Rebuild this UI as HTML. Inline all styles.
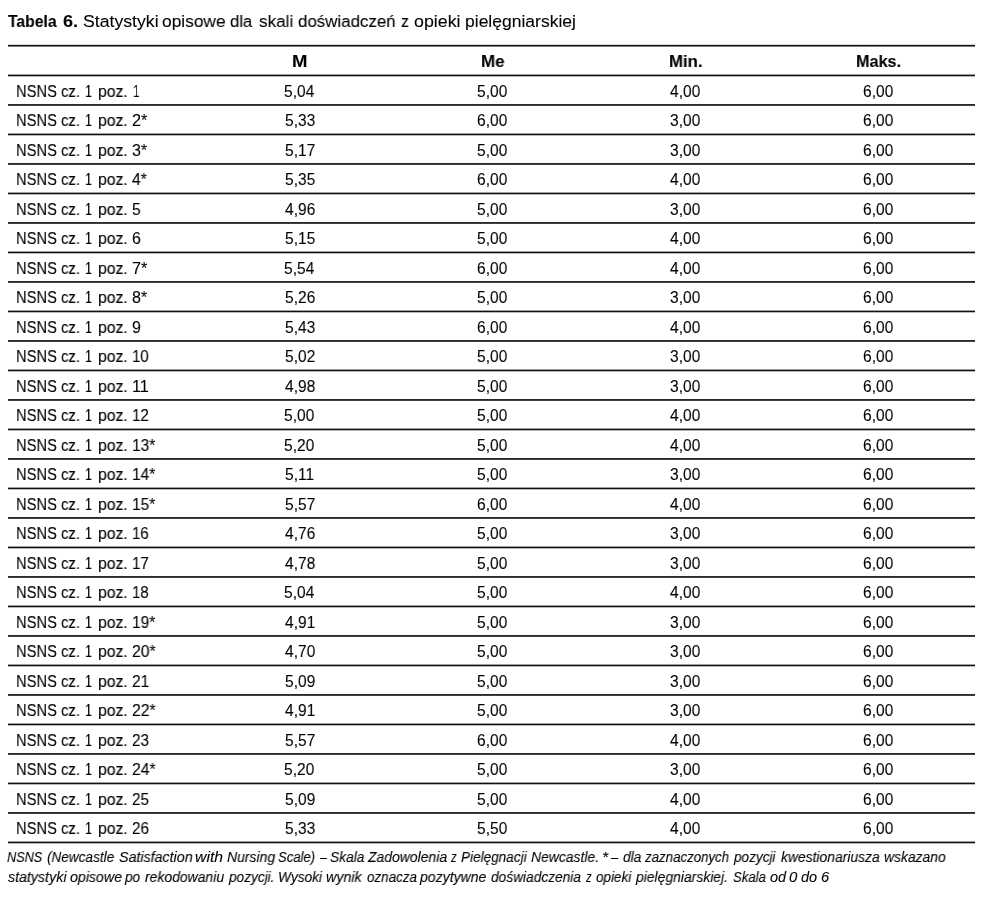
<!DOCTYPE html>
<html><head><meta charset="utf-8"><style>
html,body{margin:0;padding:0;background:#fff;width:1000px;height:901px;overflow:hidden;position:relative}
body{font-family:"Liberation Sans",sans-serif;color:#000}
.t{-webkit-text-stroke:0.1px #000}
.ln{position:absolute;left:7.5px;width:967.50px;height:1px}
.t{position:absolute;height:0;line-height:0;white-space:nowrap;transform-origin:0 0;will-change:transform}
.b{font-weight:bold}.i{font-style:italic}
</style></head><body>
<div class="ln" style="top:44px;background:#dbdbdb"></div>
<div class="ln" style="top:45px;background:#111111"></div>
<div class="ln" style="top:46px;background:#7c7c7c"></div>
<div class="ln" style="top:74px;background:#a0a0a0"></div>
<div class="ln" style="top:75px;background:#111111"></div>
<div class="ln" style="top:76px;background:#b8b8b8"></div>
<div class="ln" style="top:104px;background:#292929"></div>
<div class="ln" style="top:105px;background:#414141"></div>
<div class="ln" style="top:133px;background:#a0a0a0"></div>
<div class="ln" style="top:134px;background:#111111"></div>
<div class="ln" style="top:135px;background:#b8b8b8"></div>
<div class="ln" style="top:163px;background:#292929"></div>
<div class="ln" style="top:164px;background:#414141"></div>
<div class="ln" style="top:192px;background:#a0a0a0"></div>
<div class="ln" style="top:193px;background:#111111"></div>
<div class="ln" style="top:194px;background:#b8b8b8"></div>
<div class="ln" style="top:222px;background:#292929"></div>
<div class="ln" style="top:223px;background:#414141"></div>
<div class="ln" style="top:251px;background:#a0a0a0"></div>
<div class="ln" style="top:252px;background:#111111"></div>
<div class="ln" style="top:253px;background:#b8b8b8"></div>
<div class="ln" style="top:281px;background:#292929"></div>
<div class="ln" style="top:282px;background:#414141"></div>
<div class="ln" style="top:310px;background:#a0a0a0"></div>
<div class="ln" style="top:311px;background:#111111"></div>
<div class="ln" style="top:312px;background:#b8b8b8"></div>
<div class="ln" style="top:340px;background:#292929"></div>
<div class="ln" style="top:341px;background:#414141"></div>
<div class="ln" style="top:369px;background:#a0a0a0"></div>
<div class="ln" style="top:370px;background:#111111"></div>
<div class="ln" style="top:371px;background:#b8b8b8"></div>
<div class="ln" style="top:399px;background:#292929"></div>
<div class="ln" style="top:400px;background:#414141"></div>
<div class="ln" style="top:428px;background:#a0a0a0"></div>
<div class="ln" style="top:429px;background:#111111"></div>
<div class="ln" style="top:430px;background:#b8b8b8"></div>
<div class="ln" style="top:458px;background:#292929"></div>
<div class="ln" style="top:459px;background:#414141"></div>
<div class="ln" style="top:487px;background:#a0a0a0"></div>
<div class="ln" style="top:488px;background:#111111"></div>
<div class="ln" style="top:489px;background:#b8b8b8"></div>
<div class="ln" style="top:517px;background:#292929"></div>
<div class="ln" style="top:518px;background:#414141"></div>
<div class="ln" style="top:546px;background:#a0a0a0"></div>
<div class="ln" style="top:547px;background:#111111"></div>
<div class="ln" style="top:548px;background:#b8b8b8"></div>
<div class="ln" style="top:576px;background:#292929"></div>
<div class="ln" style="top:577px;background:#414141"></div>
<div class="ln" style="top:605px;background:#a0a0a0"></div>
<div class="ln" style="top:606px;background:#111111"></div>
<div class="ln" style="top:607px;background:#b8b8b8"></div>
<div class="ln" style="top:635px;background:#292929"></div>
<div class="ln" style="top:636px;background:#414141"></div>
<div class="ln" style="top:664px;background:#a0a0a0"></div>
<div class="ln" style="top:665px;background:#111111"></div>
<div class="ln" style="top:666px;background:#b8b8b8"></div>
<div class="ln" style="top:694px;background:#292929"></div>
<div class="ln" style="top:695px;background:#414141"></div>
<div class="ln" style="top:723px;background:#a0a0a0"></div>
<div class="ln" style="top:724px;background:#111111"></div>
<div class="ln" style="top:725px;background:#b8b8b8"></div>
<div class="ln" style="top:753px;background:#292929"></div>
<div class="ln" style="top:754px;background:#414141"></div>
<div class="ln" style="top:782px;background:#a0a0a0"></div>
<div class="ln" style="top:783px;background:#111111"></div>
<div class="ln" style="top:784px;background:#b8b8b8"></div>
<div class="ln" style="top:812px;background:#292929"></div>
<div class="ln" style="top:813px;background:#414141"></div>
<div class="ln" style="top:841px;background:#a0a0a0"></div>
<div class="ln" style="top:842px;background:#111111"></div>
<div class="ln" style="top:843px;background:#b8b8b8"></div>
<div class="t b" style="left:8.34px;top:21.37px;font-size:17.4px;transform:scaleX(0.9021)">Tabela</div>
<div class="t b" style="left:63.28px;top:21.37px;font-size:17.4px;transform:scaleX(1.0377)">6.</div>
<div class="t" style="left:82.62px;top:21.37px;font-size:17.4px;transform:scaleX(1.0154)">Statystyki</div>
<div class="t" style="left:162.31px;top:21.37px;font-size:17.4px;transform:scaleX(0.9953)">opisowe</div>
<div class="t" style="left:230.33px;top:21.37px;font-size:17.4px;transform:scaleX(0.9579)">dla</div>
<div class="t" style="left:259.49px;top:21.37px;font-size:17.4px;transform:scaleX(0.9831)">skali</div>
<div class="t" style="left:298.32px;top:21.37px;font-size:17.4px;transform:scaleX(0.9713)">doświadczeń</div>
<div class="t" style="left:401.37px;top:21.37px;font-size:17.4px;transform:scaleX(0.9111)">z</div>
<div class="t" style="left:413.79px;top:21.37px;font-size:17.4px;transform:scaleX(1.0230)">opieki</div>
<div class="t" style="left:464.77px;top:21.37px;font-size:17.4px;transform:scaleX(1.0067)">pielęgniarskiej</div>
<div class="t b" style="left:291.80px;top:61.07px;font-size:17.4px;transform:scaleX(1.0673)">M</div>
<div class="t b" style="left:480.56px;top:61.07px;font-size:17.4px;transform:scaleX(0.9743)">Me</div>
<div class="t b" style="left:668.53px;top:61.07px;font-size:17.4px;transform:scaleX(0.9640)">Min.</div>
<div class="t b" style="left:855.97px;top:61.07px;font-size:17.4px;transform:scaleX(0.9317)">Maks.</div>
<div class="t" style="left:15.62px;top:90.79px;font-size:16.2px;transform:scaleX(0.9085)">NSNS</div>
<div class="t" style="left:61.21px;top:90.79px;font-size:16.2px;transform:scaleX(0.9179)">cz.</div>
<div class="t" style="left:84.80px;top:90.79px;font-size:16.2px;transform:scaleX(0.7752)">1</div>
<div class="t" style="left:97.90px;top:90.79px;font-size:16.2px;transform:scaleX(0.9741)">poz.</div>
<div class="t" style="left:132.69px;top:90.79px;font-size:16.2px;transform:scaleX(0.7034)">1</div>
<div class="t" style="left:284.38px;top:91.59px;font-size:15.6px;transform:scaleX(0.9956)">5,04</div>
<div class="t" style="left:477.46px;top:91.59px;font-size:15.6px;transform:scaleX(0.9956)">5,00</div>
<div class="t" style="left:670.31px;top:91.59px;font-size:15.6px;transform:scaleX(0.9956)">4,00</div>
<div class="t" style="left:863.28px;top:91.59px;font-size:15.6px;transform:scaleX(0.9956)">6,00</div>
<div class="t" style="left:15.62px;top:120.29px;font-size:16.2px;transform:scaleX(0.9085)">NSNS</div>
<div class="t" style="left:61.21px;top:120.29px;font-size:16.2px;transform:scaleX(0.9179)">cz.</div>
<div class="t" style="left:84.80px;top:120.29px;font-size:16.2px;transform:scaleX(0.7752)">1</div>
<div class="t" style="left:97.90px;top:120.29px;font-size:16.2px;transform:scaleX(0.9741)">poz.</div>
<div class="t" style="left:131.99px;top:120.29px;font-size:16.2px;transform:scaleX(0.9961)">2*</div>
<div class="t" style="left:284.53px;top:121.09px;font-size:15.6px;transform:scaleX(0.9956)">5,33</div>
<div class="t" style="left:477.38px;top:121.09px;font-size:15.6px;transform:scaleX(0.9956)">6,00</div>
<div class="t" style="left:670.16px;top:121.09px;font-size:15.6px;transform:scaleX(0.9956)">3,00</div>
<div class="t" style="left:863.28px;top:121.09px;font-size:15.6px;transform:scaleX(0.9956)">6,00</div>
<div class="t" style="left:15.62px;top:149.79px;font-size:16.2px;transform:scaleX(0.9085)">NSNS</div>
<div class="t" style="left:61.21px;top:149.79px;font-size:16.2px;transform:scaleX(0.9179)">cz.</div>
<div class="t" style="left:84.80px;top:149.79px;font-size:16.2px;transform:scaleX(0.7752)">1</div>
<div class="t" style="left:97.90px;top:149.79px;font-size:16.2px;transform:scaleX(0.9741)">poz.</div>
<div class="t" style="left:132.16px;top:149.79px;font-size:16.2px;transform:scaleX(0.9849)">3*</div>
<div class="t" style="left:284.53px;top:150.59px;font-size:15.6px;transform:scaleX(0.9956)">5,17</div>
<div class="t" style="left:477.46px;top:150.59px;font-size:15.6px;transform:scaleX(0.9956)">5,00</div>
<div class="t" style="left:670.16px;top:150.59px;font-size:15.6px;transform:scaleX(0.9956)">3,00</div>
<div class="t" style="left:863.28px;top:150.59px;font-size:15.6px;transform:scaleX(0.9956)">6,00</div>
<div class="t" style="left:15.62px;top:179.29px;font-size:16.2px;transform:scaleX(0.9085)">NSNS</div>
<div class="t" style="left:61.21px;top:179.29px;font-size:16.2px;transform:scaleX(0.9179)">cz.</div>
<div class="t" style="left:84.80px;top:179.29px;font-size:16.2px;transform:scaleX(0.7752)">1</div>
<div class="t" style="left:97.90px;top:179.29px;font-size:16.2px;transform:scaleX(0.9741)">poz.</div>
<div class="t" style="left:132.49px;top:179.29px;font-size:16.2px;transform:scaleX(0.9632)">4*</div>
<div class="t" style="left:284.53px;top:180.09px;font-size:15.6px;transform:scaleX(0.9956)">5,35</div>
<div class="t" style="left:477.38px;top:180.09px;font-size:15.6px;transform:scaleX(0.9956)">6,00</div>
<div class="t" style="left:670.31px;top:180.09px;font-size:15.6px;transform:scaleX(0.9956)">4,00</div>
<div class="t" style="left:863.28px;top:180.09px;font-size:15.6px;transform:scaleX(0.9956)">6,00</div>
<div class="t" style="left:15.62px;top:208.79px;font-size:16.2px;transform:scaleX(0.9085)">NSNS</div>
<div class="t" style="left:61.21px;top:208.79px;font-size:16.2px;transform:scaleX(0.9179)">cz.</div>
<div class="t" style="left:84.80px;top:208.79px;font-size:16.2px;transform:scaleX(0.7752)">1</div>
<div class="t" style="left:97.90px;top:208.79px;font-size:16.2px;transform:scaleX(0.9741)">poz.</div>
<div class="t" style="left:132.18px;top:208.79px;font-size:16.2px;transform:scaleX(0.9588)">5</div>
<div class="t" style="left:284.69px;top:209.59px;font-size:15.6px;transform:scaleX(0.9956)">4,96</div>
<div class="t" style="left:477.46px;top:209.59px;font-size:15.6px;transform:scaleX(0.9956)">5,00</div>
<div class="t" style="left:670.16px;top:209.59px;font-size:15.6px;transform:scaleX(0.9956)">3,00</div>
<div class="t" style="left:863.28px;top:209.59px;font-size:15.6px;transform:scaleX(0.9956)">6,00</div>
<div class="t" style="left:15.62px;top:238.29px;font-size:16.2px;transform:scaleX(0.9085)">NSNS</div>
<div class="t" style="left:61.21px;top:238.29px;font-size:16.2px;transform:scaleX(0.9179)">cz.</div>
<div class="t" style="left:84.80px;top:238.29px;font-size:16.2px;transform:scaleX(0.7752)">1</div>
<div class="t" style="left:97.90px;top:238.29px;font-size:16.2px;transform:scaleX(0.9741)">poz.</div>
<div class="t" style="left:132.01px;top:238.29px;font-size:16.2px;transform:scaleX(0.9796)">6</div>
<div class="t" style="left:284.53px;top:239.09px;font-size:15.6px;transform:scaleX(0.9956)">5,15</div>
<div class="t" style="left:477.46px;top:239.09px;font-size:15.6px;transform:scaleX(0.9956)">5,00</div>
<div class="t" style="left:670.31px;top:239.09px;font-size:15.6px;transform:scaleX(0.9956)">4,00</div>
<div class="t" style="left:863.28px;top:239.09px;font-size:15.6px;transform:scaleX(0.9956)">6,00</div>
<div class="t" style="left:15.62px;top:267.79px;font-size:16.2px;transform:scaleX(0.9085)">NSNS</div>
<div class="t" style="left:61.21px;top:267.79px;font-size:16.2px;transform:scaleX(0.9179)">cz.</div>
<div class="t" style="left:84.80px;top:267.79px;font-size:16.2px;transform:scaleX(0.7752)">1</div>
<div class="t" style="left:97.90px;top:267.79px;font-size:16.2px;transform:scaleX(0.9741)">poz.</div>
<div class="t" style="left:131.99px;top:267.79px;font-size:16.2px;transform:scaleX(0.9961)">7*</div>
<div class="t" style="left:284.38px;top:268.59px;font-size:15.6px;transform:scaleX(0.9956)">5,54</div>
<div class="t" style="left:477.38px;top:268.59px;font-size:15.6px;transform:scaleX(0.9956)">6,00</div>
<div class="t" style="left:670.31px;top:268.59px;font-size:15.6px;transform:scaleX(0.9956)">4,00</div>
<div class="t" style="left:863.28px;top:268.59px;font-size:15.6px;transform:scaleX(0.9956)">6,00</div>
<div class="t" style="left:15.62px;top:297.29px;font-size:16.2px;transform:scaleX(0.9085)">NSNS</div>
<div class="t" style="left:61.21px;top:297.29px;font-size:16.2px;transform:scaleX(0.9179)">cz.</div>
<div class="t" style="left:84.80px;top:297.29px;font-size:16.2px;transform:scaleX(0.7752)">1</div>
<div class="t" style="left:97.90px;top:297.29px;font-size:16.2px;transform:scaleX(0.9741)">poz.</div>
<div class="t" style="left:132.16px;top:297.29px;font-size:16.2px;transform:scaleX(0.9849)">8*</div>
<div class="t" style="left:284.53px;top:298.09px;font-size:15.6px;transform:scaleX(0.9956)">5,26</div>
<div class="t" style="left:477.46px;top:298.09px;font-size:15.6px;transform:scaleX(0.9956)">5,00</div>
<div class="t" style="left:670.16px;top:298.09px;font-size:15.6px;transform:scaleX(0.9956)">3,00</div>
<div class="t" style="left:863.28px;top:298.09px;font-size:15.6px;transform:scaleX(0.9956)">6,00</div>
<div class="t" style="left:15.62px;top:326.79px;font-size:16.2px;transform:scaleX(0.9085)">NSNS</div>
<div class="t" style="left:61.21px;top:326.79px;font-size:16.2px;transform:scaleX(0.9179)">cz.</div>
<div class="t" style="left:84.80px;top:326.79px;font-size:16.2px;transform:scaleX(0.7752)">1</div>
<div class="t" style="left:97.90px;top:326.79px;font-size:16.2px;transform:scaleX(0.9741)">poz.</div>
<div class="t" style="left:132.01px;top:326.79px;font-size:16.2px;transform:scaleX(0.9796)">9</div>
<div class="t" style="left:284.53px;top:327.59px;font-size:15.6px;transform:scaleX(0.9956)">5,43</div>
<div class="t" style="left:477.38px;top:327.59px;font-size:15.6px;transform:scaleX(0.9956)">6,00</div>
<div class="t" style="left:670.31px;top:327.59px;font-size:15.6px;transform:scaleX(0.9956)">4,00</div>
<div class="t" style="left:863.28px;top:327.59px;font-size:15.6px;transform:scaleX(0.9956)">6,00</div>
<div class="t" style="left:15.62px;top:356.29px;font-size:16.2px;transform:scaleX(0.9085)">NSNS</div>
<div class="t" style="left:61.21px;top:356.29px;font-size:16.2px;transform:scaleX(0.9179)">cz.</div>
<div class="t" style="left:84.80px;top:356.29px;font-size:16.2px;transform:scaleX(0.7752)">1</div>
<div class="t" style="left:97.90px;top:356.29px;font-size:16.2px;transform:scaleX(0.9741)">poz.</div>
<div class="t" style="left:132.40px;top:356.29px;font-size:16.2px;transform:scaleX(0.9228)">10</div>
<div class="t" style="left:284.53px;top:357.09px;font-size:15.6px;transform:scaleX(0.9956)">5,02</div>
<div class="t" style="left:477.46px;top:357.09px;font-size:15.6px;transform:scaleX(0.9956)">5,00</div>
<div class="t" style="left:670.16px;top:357.09px;font-size:15.6px;transform:scaleX(0.9956)">3,00</div>
<div class="t" style="left:863.28px;top:357.09px;font-size:15.6px;transform:scaleX(0.9956)">6,00</div>
<div class="t" style="left:15.62px;top:385.79px;font-size:16.2px;transform:scaleX(0.9085)">NSNS</div>
<div class="t" style="left:61.21px;top:385.79px;font-size:16.2px;transform:scaleX(0.9179)">cz.</div>
<div class="t" style="left:84.80px;top:385.79px;font-size:16.2px;transform:scaleX(0.7752)">1</div>
<div class="t" style="left:97.90px;top:385.79px;font-size:16.2px;transform:scaleX(0.9741)">poz.</div>
<div class="t" style="left:132.30px;top:385.79px;font-size:16.2px;transform:scaleX(1.0039)">11</div>
<div class="t" style="left:284.69px;top:386.59px;font-size:15.6px;transform:scaleX(0.9956)">4,98</div>
<div class="t" style="left:477.46px;top:386.59px;font-size:15.6px;transform:scaleX(0.9956)">5,00</div>
<div class="t" style="left:670.16px;top:386.59px;font-size:15.6px;transform:scaleX(0.9956)">3,00</div>
<div class="t" style="left:863.28px;top:386.59px;font-size:15.6px;transform:scaleX(0.9956)">6,00</div>
<div class="t" style="left:15.62px;top:415.29px;font-size:16.2px;transform:scaleX(0.9085)">NSNS</div>
<div class="t" style="left:61.21px;top:415.29px;font-size:16.2px;transform:scaleX(0.9179)">cz.</div>
<div class="t" style="left:84.80px;top:415.29px;font-size:16.2px;transform:scaleX(0.7752)">1</div>
<div class="t" style="left:97.90px;top:415.29px;font-size:16.2px;transform:scaleX(0.9741)">poz.</div>
<div class="t" style="left:132.39px;top:415.29px;font-size:16.2px;transform:scaleX(0.9322)">12</div>
<div class="t" style="left:284.46px;top:416.09px;font-size:15.6px;transform:scaleX(0.9956)">5,00</div>
<div class="t" style="left:477.46px;top:416.09px;font-size:15.6px;transform:scaleX(0.9956)">5,00</div>
<div class="t" style="left:670.31px;top:416.09px;font-size:15.6px;transform:scaleX(0.9956)">4,00</div>
<div class="t" style="left:863.28px;top:416.09px;font-size:15.6px;transform:scaleX(0.9956)">6,00</div>
<div class="t" style="left:15.62px;top:444.79px;font-size:16.2px;transform:scaleX(0.9085)">NSNS</div>
<div class="t" style="left:61.21px;top:444.79px;font-size:16.2px;transform:scaleX(0.9179)">cz.</div>
<div class="t" style="left:84.80px;top:444.79px;font-size:16.2px;transform:scaleX(0.7752)">1</div>
<div class="t" style="left:97.90px;top:444.79px;font-size:16.2px;transform:scaleX(0.9741)">poz.</div>
<div class="t" style="left:132.36px;top:444.79px;font-size:16.2px;transform:scaleX(0.9568)">13*</div>
<div class="t" style="left:284.46px;top:445.59px;font-size:15.6px;transform:scaleX(0.9956)">5,20</div>
<div class="t" style="left:477.46px;top:445.59px;font-size:15.6px;transform:scaleX(0.9956)">5,00</div>
<div class="t" style="left:670.31px;top:445.59px;font-size:15.6px;transform:scaleX(0.9956)">4,00</div>
<div class="t" style="left:863.28px;top:445.59px;font-size:15.6px;transform:scaleX(0.9956)">6,00</div>
<div class="t" style="left:15.62px;top:474.29px;font-size:16.2px;transform:scaleX(0.9085)">NSNS</div>
<div class="t" style="left:61.21px;top:474.29px;font-size:16.2px;transform:scaleX(0.9179)">cz.</div>
<div class="t" style="left:84.80px;top:474.29px;font-size:16.2px;transform:scaleX(0.7752)">1</div>
<div class="t" style="left:97.90px;top:474.29px;font-size:16.2px;transform:scaleX(0.9741)">poz.</div>
<div class="t" style="left:132.36px;top:474.29px;font-size:16.2px;transform:scaleX(0.9568)">14*</div>
<div class="t" style="left:285.16px;top:475.09px;font-size:15.6px;transform:scaleX(0.9956)">5,11</div>
<div class="t" style="left:477.46px;top:475.09px;font-size:15.6px;transform:scaleX(0.9956)">5,00</div>
<div class="t" style="left:670.16px;top:475.09px;font-size:15.6px;transform:scaleX(0.9956)">3,00</div>
<div class="t" style="left:863.28px;top:475.09px;font-size:15.6px;transform:scaleX(0.9956)">6,00</div>
<div class="t" style="left:15.62px;top:503.79px;font-size:16.2px;transform:scaleX(0.9085)">NSNS</div>
<div class="t" style="left:61.21px;top:503.79px;font-size:16.2px;transform:scaleX(0.9179)">cz.</div>
<div class="t" style="left:84.80px;top:503.79px;font-size:16.2px;transform:scaleX(0.7752)">1</div>
<div class="t" style="left:97.90px;top:503.79px;font-size:16.2px;transform:scaleX(0.9741)">poz.</div>
<div class="t" style="left:132.36px;top:503.79px;font-size:16.2px;transform:scaleX(0.9568)">15*</div>
<div class="t" style="left:284.53px;top:504.59px;font-size:15.6px;transform:scaleX(0.9956)">5,57</div>
<div class="t" style="left:477.38px;top:504.59px;font-size:15.6px;transform:scaleX(0.9956)">6,00</div>
<div class="t" style="left:670.31px;top:504.59px;font-size:15.6px;transform:scaleX(0.9956)">4,00</div>
<div class="t" style="left:863.28px;top:504.59px;font-size:15.6px;transform:scaleX(0.9956)">6,00</div>
<div class="t" style="left:15.62px;top:533.29px;font-size:16.2px;transform:scaleX(0.9085)">NSNS</div>
<div class="t" style="left:61.21px;top:533.29px;font-size:16.2px;transform:scaleX(0.9179)">cz.</div>
<div class="t" style="left:84.80px;top:533.29px;font-size:16.2px;transform:scaleX(0.7752)">1</div>
<div class="t" style="left:97.90px;top:533.29px;font-size:16.2px;transform:scaleX(0.9741)">poz.</div>
<div class="t" style="left:132.40px;top:533.29px;font-size:16.2px;transform:scaleX(0.9228)">16</div>
<div class="t" style="left:284.69px;top:534.09px;font-size:15.6px;transform:scaleX(0.9956)">4,76</div>
<div class="t" style="left:477.46px;top:534.09px;font-size:15.6px;transform:scaleX(0.9956)">5,00</div>
<div class="t" style="left:670.16px;top:534.09px;font-size:15.6px;transform:scaleX(0.9956)">3,00</div>
<div class="t" style="left:863.28px;top:534.09px;font-size:15.6px;transform:scaleX(0.9956)">6,00</div>
<div class="t" style="left:15.62px;top:562.79px;font-size:16.2px;transform:scaleX(0.9085)">NSNS</div>
<div class="t" style="left:61.21px;top:562.79px;font-size:16.2px;transform:scaleX(0.9179)">cz.</div>
<div class="t" style="left:84.80px;top:562.79px;font-size:16.2px;transform:scaleX(0.7752)">1</div>
<div class="t" style="left:97.90px;top:562.79px;font-size:16.2px;transform:scaleX(0.9741)">poz.</div>
<div class="t" style="left:132.39px;top:562.79px;font-size:16.2px;transform:scaleX(0.9322)">17</div>
<div class="t" style="left:284.69px;top:563.59px;font-size:15.6px;transform:scaleX(0.9956)">4,78</div>
<div class="t" style="left:477.46px;top:563.59px;font-size:15.6px;transform:scaleX(0.9956)">5,00</div>
<div class="t" style="left:670.16px;top:563.59px;font-size:15.6px;transform:scaleX(0.9956)">3,00</div>
<div class="t" style="left:863.28px;top:563.59px;font-size:15.6px;transform:scaleX(0.9956)">6,00</div>
<div class="t" style="left:15.62px;top:592.29px;font-size:16.2px;transform:scaleX(0.9085)">NSNS</div>
<div class="t" style="left:61.21px;top:592.29px;font-size:16.2px;transform:scaleX(0.9179)">cz.</div>
<div class="t" style="left:84.80px;top:592.29px;font-size:16.2px;transform:scaleX(0.7752)">1</div>
<div class="t" style="left:97.90px;top:592.29px;font-size:16.2px;transform:scaleX(0.9741)">poz.</div>
<div class="t" style="left:132.40px;top:592.29px;font-size:16.2px;transform:scaleX(0.9228)">18</div>
<div class="t" style="left:284.38px;top:593.09px;font-size:15.6px;transform:scaleX(0.9956)">5,04</div>
<div class="t" style="left:477.46px;top:593.09px;font-size:15.6px;transform:scaleX(0.9956)">5,00</div>
<div class="t" style="left:670.31px;top:593.09px;font-size:15.6px;transform:scaleX(0.9956)">4,00</div>
<div class="t" style="left:863.28px;top:593.09px;font-size:15.6px;transform:scaleX(0.9956)">6,00</div>
<div class="t" style="left:15.62px;top:621.79px;font-size:16.2px;transform:scaleX(0.9085)">NSNS</div>
<div class="t" style="left:61.21px;top:621.79px;font-size:16.2px;transform:scaleX(0.9179)">cz.</div>
<div class="t" style="left:84.80px;top:621.79px;font-size:16.2px;transform:scaleX(0.7752)">1</div>
<div class="t" style="left:97.90px;top:621.79px;font-size:16.2px;transform:scaleX(0.9741)">poz.</div>
<div class="t" style="left:132.36px;top:621.79px;font-size:16.2px;transform:scaleX(0.9568)">19*</div>
<div class="t" style="left:284.69px;top:622.59px;font-size:15.6px;transform:scaleX(0.9956)">4,91</div>
<div class="t" style="left:477.46px;top:622.59px;font-size:15.6px;transform:scaleX(0.9956)">5,00</div>
<div class="t" style="left:670.16px;top:622.59px;font-size:15.6px;transform:scaleX(0.9956)">3,00</div>
<div class="t" style="left:863.28px;top:622.59px;font-size:15.6px;transform:scaleX(0.9956)">6,00</div>
<div class="t" style="left:15.62px;top:651.29px;font-size:16.2px;transform:scaleX(0.9085)">NSNS</div>
<div class="t" style="left:61.21px;top:651.29px;font-size:16.2px;transform:scaleX(0.9179)">cz.</div>
<div class="t" style="left:84.80px;top:651.29px;font-size:16.2px;transform:scaleX(0.7752)">1</div>
<div class="t" style="left:97.90px;top:651.29px;font-size:16.2px;transform:scaleX(0.9741)">poz.</div>
<div class="t" style="left:132.01px;top:651.29px;font-size:16.2px;transform:scaleX(0.9713)">20*</div>
<div class="t" style="left:284.61px;top:652.09px;font-size:15.6px;transform:scaleX(0.9956)">4,70</div>
<div class="t" style="left:477.46px;top:652.09px;font-size:15.6px;transform:scaleX(0.9956)">5,00</div>
<div class="t" style="left:670.16px;top:652.09px;font-size:15.6px;transform:scaleX(0.9956)">3,00</div>
<div class="t" style="left:863.28px;top:652.09px;font-size:15.6px;transform:scaleX(0.9956)">6,00</div>
<div class="t" style="left:15.62px;top:680.79px;font-size:16.2px;transform:scaleX(0.9085)">NSNS</div>
<div class="t" style="left:61.21px;top:680.79px;font-size:16.2px;transform:scaleX(0.9179)">cz.</div>
<div class="t" style="left:84.80px;top:680.79px;font-size:16.2px;transform:scaleX(0.7752)">1</div>
<div class="t" style="left:97.90px;top:680.79px;font-size:16.2px;transform:scaleX(0.9741)">poz.</div>
<div class="t" style="left:132.03px;top:680.79px;font-size:16.2px;transform:scaleX(0.9534)">21</div>
<div class="t" style="left:284.53px;top:681.59px;font-size:15.6px;transform:scaleX(0.9956)">5,09</div>
<div class="t" style="left:477.46px;top:681.59px;font-size:15.6px;transform:scaleX(0.9956)">5,00</div>
<div class="t" style="left:670.16px;top:681.59px;font-size:15.6px;transform:scaleX(0.9956)">3,00</div>
<div class="t" style="left:863.28px;top:681.59px;font-size:15.6px;transform:scaleX(0.9956)">6,00</div>
<div class="t" style="left:15.62px;top:710.29px;font-size:16.2px;transform:scaleX(0.9085)">NSNS</div>
<div class="t" style="left:61.21px;top:710.29px;font-size:16.2px;transform:scaleX(0.9179)">cz.</div>
<div class="t" style="left:84.80px;top:710.29px;font-size:16.2px;transform:scaleX(0.7752)">1</div>
<div class="t" style="left:97.90px;top:710.29px;font-size:16.2px;transform:scaleX(0.9741)">poz.</div>
<div class="t" style="left:132.01px;top:710.29px;font-size:16.2px;transform:scaleX(0.9713)">22*</div>
<div class="t" style="left:284.69px;top:711.09px;font-size:15.6px;transform:scaleX(0.9956)">4,91</div>
<div class="t" style="left:477.46px;top:711.09px;font-size:15.6px;transform:scaleX(0.9956)">5,00</div>
<div class="t" style="left:670.16px;top:711.09px;font-size:15.6px;transform:scaleX(0.9956)">3,00</div>
<div class="t" style="left:863.28px;top:711.09px;font-size:15.6px;transform:scaleX(0.9956)">6,00</div>
<div class="t" style="left:15.62px;top:739.79px;font-size:16.2px;transform:scaleX(0.9085)">NSNS</div>
<div class="t" style="left:61.21px;top:739.79px;font-size:16.2px;transform:scaleX(0.9179)">cz.</div>
<div class="t" style="left:84.80px;top:739.79px;font-size:16.2px;transform:scaleX(0.7752)">1</div>
<div class="t" style="left:97.90px;top:739.79px;font-size:16.2px;transform:scaleX(0.9741)">poz.</div>
<div class="t" style="left:132.04px;top:739.79px;font-size:16.2px;transform:scaleX(0.9441)">23</div>
<div class="t" style="left:284.53px;top:740.59px;font-size:15.6px;transform:scaleX(0.9956)">5,57</div>
<div class="t" style="left:477.38px;top:740.59px;font-size:15.6px;transform:scaleX(0.9956)">6,00</div>
<div class="t" style="left:670.31px;top:740.59px;font-size:15.6px;transform:scaleX(0.9956)">4,00</div>
<div class="t" style="left:863.28px;top:740.59px;font-size:15.6px;transform:scaleX(0.9956)">6,00</div>
<div class="t" style="left:15.62px;top:769.29px;font-size:16.2px;transform:scaleX(0.9085)">NSNS</div>
<div class="t" style="left:61.21px;top:769.29px;font-size:16.2px;transform:scaleX(0.9179)">cz.</div>
<div class="t" style="left:84.80px;top:769.29px;font-size:16.2px;transform:scaleX(0.7752)">1</div>
<div class="t" style="left:97.90px;top:769.29px;font-size:16.2px;transform:scaleX(0.9741)">poz.</div>
<div class="t" style="left:132.01px;top:769.29px;font-size:16.2px;transform:scaleX(0.9713)">24*</div>
<div class="t" style="left:284.46px;top:770.09px;font-size:15.6px;transform:scaleX(0.9956)">5,20</div>
<div class="t" style="left:477.46px;top:770.09px;font-size:15.6px;transform:scaleX(0.9956)">5,00</div>
<div class="t" style="left:670.16px;top:770.09px;font-size:15.6px;transform:scaleX(0.9956)">3,00</div>
<div class="t" style="left:863.28px;top:770.09px;font-size:15.6px;transform:scaleX(0.9956)">6,00</div>
<div class="t" style="left:15.62px;top:798.79px;font-size:16.2px;transform:scaleX(0.9085)">NSNS</div>
<div class="t" style="left:61.21px;top:798.79px;font-size:16.2px;transform:scaleX(0.9179)">cz.</div>
<div class="t" style="left:84.80px;top:798.79px;font-size:16.2px;transform:scaleX(0.7752)">1</div>
<div class="t" style="left:97.90px;top:798.79px;font-size:16.2px;transform:scaleX(0.9741)">poz.</div>
<div class="t" style="left:132.04px;top:798.79px;font-size:16.2px;transform:scaleX(0.9441)">25</div>
<div class="t" style="left:284.53px;top:799.59px;font-size:15.6px;transform:scaleX(0.9956)">5,09</div>
<div class="t" style="left:477.46px;top:799.59px;font-size:15.6px;transform:scaleX(0.9956)">5,00</div>
<div class="t" style="left:670.31px;top:799.59px;font-size:15.6px;transform:scaleX(0.9956)">4,00</div>
<div class="t" style="left:863.28px;top:799.59px;font-size:15.6px;transform:scaleX(0.9956)">6,00</div>
<div class="t" style="left:15.62px;top:828.29px;font-size:16.2px;transform:scaleX(0.9085)">NSNS</div>
<div class="t" style="left:61.21px;top:828.29px;font-size:16.2px;transform:scaleX(0.9179)">cz.</div>
<div class="t" style="left:84.80px;top:828.29px;font-size:16.2px;transform:scaleX(0.7752)">1</div>
<div class="t" style="left:97.90px;top:828.29px;font-size:16.2px;transform:scaleX(0.9741)">poz.</div>
<div class="t" style="left:132.04px;top:828.29px;font-size:16.2px;transform:scaleX(0.9441)">26</div>
<div class="t" style="left:284.53px;top:829.09px;font-size:15.6px;transform:scaleX(0.9956)">5,33</div>
<div class="t" style="left:477.46px;top:829.09px;font-size:15.6px;transform:scaleX(0.9956)">5,50</div>
<div class="t" style="left:670.31px;top:829.09px;font-size:15.6px;transform:scaleX(0.9956)">4,00</div>
<div class="t" style="left:863.28px;top:829.09px;font-size:15.6px;transform:scaleX(0.9956)">6,00</div>
<div class="t i" style="left:7.42px;top:857.38px;font-size:14.5px;transform:scaleX(0.8766)">NSNS</div>
<div class="t i" style="left:47.32px;top:857.38px;font-size:14.5px;transform:scaleX(0.9366)">(Newcastle</div>
<div class="t i" style="left:118.57px;top:857.38px;font-size:14.5px;transform:scaleX(0.9823)">Satisfaction</div>
<div class="t i" style="left:195.21px;top:857.38px;font-size:14.5px;transform:scaleX(1.0878)">with</div>
<div class="t i" style="left:226.58px;top:857.38px;font-size:14.5px;transform:scaleX(0.9635)">Nursing</div>
<div class="t i" style="left:277.61px;top:857.38px;font-size:14.5px;transform:scaleX(0.9028)">Scale)</div>
<div class="t i" style="left:319.62px;top:857.38px;font-size:14.5px;transform:scaleX(0.8469)">–</div>
<div class="t i" style="left:330.09px;top:857.38px;font-size:14.5px;transform:scaleX(0.9469)">Skala</div>
<div class="t i" style="left:367.78px;top:857.38px;font-size:14.5px;transform:scaleX(0.9626)">Zadowolenia</div>
<div class="t i" style="left:451.00px;top:857.38px;font-size:14.5px;transform:scaleX(0.7741)">z</div>
<div class="t i" style="left:461.09px;top:857.38px;font-size:14.5px;transform:scaleX(0.9352)">Pielęgnacji</div>
<div class="t i" style="left:531.08px;top:857.38px;font-size:14.5px;transform:scaleX(0.9603)">Newcastle.</div>
<div class="t i" style="left:601.56px;top:857.38px;font-size:14.5px;transform:scaleX(1.0837)">*</div>
<div class="t i" style="left:611.13px;top:857.38px;font-size:14.5px;transform:scaleX(0.9074)">–</div>
<div class="t i" style="left:622.59px;top:857.38px;font-size:14.5px;transform:scaleX(0.9503)">dla</div>
<div class="t i" style="left:645.00px;top:857.38px;font-size:14.5px;transform:scaleX(0.9155)">zaznaczonych</div>
<div class="t i" style="left:734.27px;top:857.38px;font-size:14.5px;transform:scaleX(0.9344)">pozycji</div>
<div class="t i" style="left:780.72px;top:857.38px;font-size:14.5px;transform:scaleX(0.9573)">kwestionariusza</div>
<div class="t i" style="left:883.81px;top:857.38px;font-size:14.5px;transform:scaleX(0.9570)">wskazano</div>
<div class="t i" style="left:7.80px;top:876.58px;font-size:14.5px;transform:scaleX(0.9802)">statystyki</div>
<div class="t i" style="left:70.08px;top:876.58px;font-size:14.5px;transform:scaleX(0.9770)">opisowe</div>
<div class="t i" style="left:125.27px;top:876.58px;font-size:14.5px;transform:scaleX(0.9404)">po</div>
<div class="t i" style="left:144.72px;top:876.58px;font-size:14.5px;transform:scaleX(0.9616)">rekodowaniu</div>
<div class="t i" style="left:229.27px;top:876.58px;font-size:14.5px;transform:scaleX(0.9395)">pozycji.</div>
<div class="t i" style="left:278.27px;top:876.58px;font-size:14.5px;transform:scaleX(0.9414)">Wysoki</div>
<div class="t i" style="left:326.29px;top:876.58px;font-size:14.5px;transform:scaleX(0.9832)">wynik</div>
<div class="t i" style="left:366.60px;top:876.58px;font-size:14.5px;transform:scaleX(0.9233)">oznacza</div>
<div class="t i" style="left:420.28px;top:876.58px;font-size:14.5px;transform:scaleX(0.9664)">pozytywne</div>
<div class="t i" style="left:490.59px;top:876.58px;font-size:14.5px;transform:scaleX(0.9458)">doświadczenia</div>
<div class="t i" style="left:585.50px;top:876.58px;font-size:14.5px;transform:scaleX(0.7741)">z</div>
<div class="t i" style="left:595.60px;top:876.58px;font-size:14.5px;transform:scaleX(0.9284)">opieki</div>
<div class="t i" style="left:636.28px;top:876.58px;font-size:14.5px;transform:scaleX(0.9587)">pielęgniarskiej.</div>
<div class="t i" style="left:732.61px;top:876.58px;font-size:14.5px;transform:scaleX(0.9045)">Skala</div>
<div class="t i" style="left:769.57px;top:876.58px;font-size:14.5px;transform:scaleX(0.9941)">od</div>
<div class="t i" style="left:789.40px;top:876.58px;font-size:14.5px;transform:scaleX(1.0277)">0</div>
<div class="t i" style="left:801.17px;top:876.58px;font-size:14.5px;transform:scaleX(0.9984)">do</div>
<div class="t i" style="left:820.72px;top:876.58px;font-size:14.5px;transform:scaleX(1.0134)">6</div>
</body></html>
